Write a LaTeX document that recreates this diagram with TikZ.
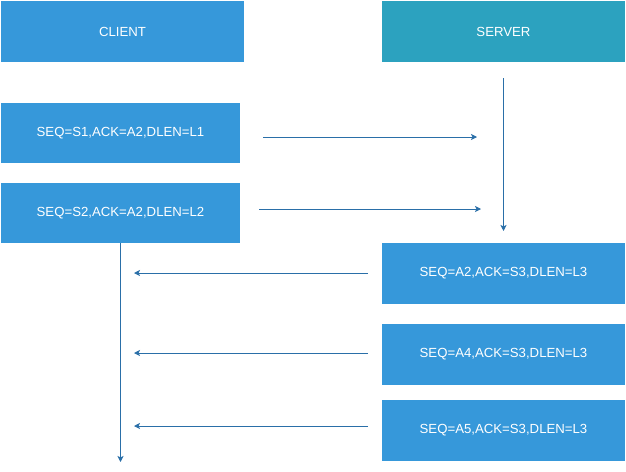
\documentclass[tikz,border=0pt]{standalone}
\usepackage{fontspec}
\setmainfont{Liberation Sans}
\usepackage{tikz}
\usetikzlibrary{arrows.meta}

\definecolor{boxblue}{RGB}{54,152,218}
\definecolor{boxteal}{RGB}{44,162,191}
\definecolor{lineblue}{RGB}{42,111,168}

\begin{document}
\begin{tikzpicture}[x=1pt,y=-1pt,
  box/.style={fill=boxblue, text=white, inner sep=0pt, minimum width=243pt,
              minimum height=61pt, font=\fontsize{13.2}{15}\selectfont},
  msg/.style={lineblue, line width=0.9pt, -{Stealth[length=6pt,width=6pt,inset=1.5pt]}}]
% CANVAS
  \useasboundingbox (0,0) rectangle (626,471);

% HEADERS
  \node[box] (client) at (122.5, 31.5) {CLIENT};
  \node[box, fill=boxteal] (server) at (503.5, 31.5) {SERVER};

% CLIENT segments
  \node[box, minimum width=239pt, minimum height=60pt] (seqa) at (120.5, 133) {SEQ=S1,ACK=A2,DLEN=L1};
  \node[box, minimum width=239pt, minimum height=60pt] (seqb) at (120.5, 213) {SEQ=S2,ACK=A2,DLEN=L2};

% SERVER segments
  \node[box] (acka) at (503.5, 273.5) {SEQ=A2,ACK=S3,DLEN=L3};
  \node[box] (ackb) at (503.5, 354.5) {SEQ=A4,ACK=S3,DLEN=L3};
  \node[box] (ackc) at (503.5, 430.5) {SEQ=A5,ACK=S3,DLEN=L3};

% free ends
  \coordinate (sa) at (263, 137);   \coordinate (ta) at (477, 137);
  \coordinate (sb) at (259, 209);   \coordinate (tb) at (481, 209);
  \coordinate (srvtop) at (503.5, 78); \coordinate (srvend) at (503.5, 231);
  \coordinate (ra) at (368, 273);   \coordinate (la) at (134, 273);
  \coordinate (rb) at (368, 353);   \coordinate (lb) at (134, 353);
  \coordinate (rc) at (368, 426);   \coordinate (lc) at (134, 426);
  \coordinate (cliend) at (120.5, 462);

% timelines
  \draw[msg] (srvtop) -- (srvend);
  \draw[msg] (seqb.south -| cliend) -- (cliend);

% messages
  \draw[msg] (sa) -- (ta);
  \draw[msg] (sb) -- (tb);
  \draw[msg] (ra) -- (la);
  \draw[msg] (rb) -- (lb);
  \draw[msg] (rc) -- (lc);
\end{tikzpicture}
\end{document}
